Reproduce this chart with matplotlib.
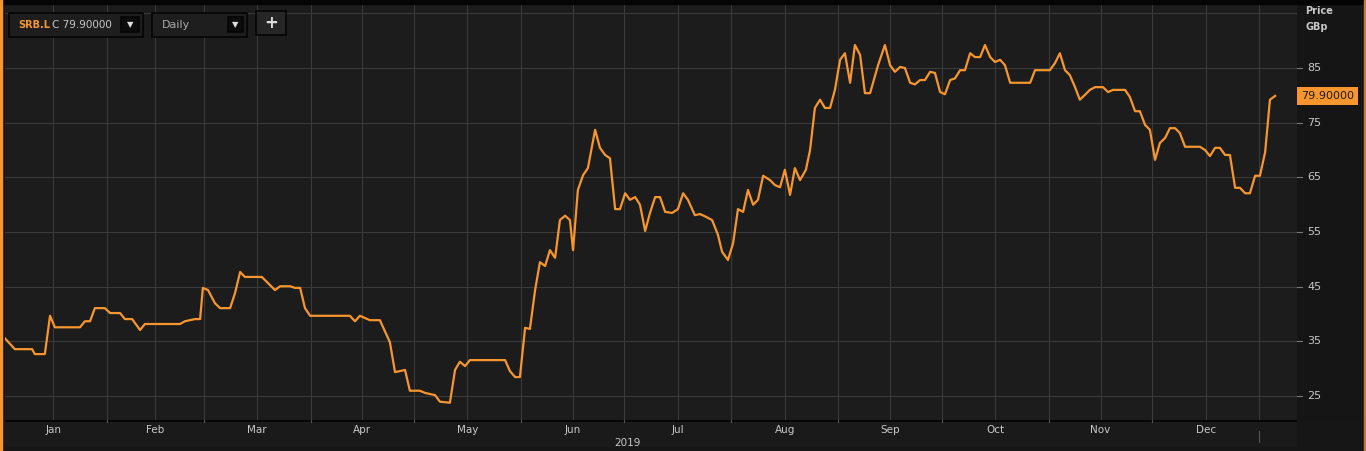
import matplotlib
matplotlib.use("Agg")
import matplotlib.pyplot as plt
from matplotlib.patches import Rectangle
import numpy as np

# x positions (chart pixels, converted to days since 1 Jan 2019) and prices
days_px = [5,15,32,35,45,50,55,80,85,90,95,105,110,120,125,132,140,145,180,185,195,200,203,208,215,220,230,235,240,245,262,270,275,280,290,295,300,305,310,350,355,360,370,380,390,395,405,410,420,425,435,440,450,455,460,465,470,505,510,515,520,525,530,535,540,545,550,555,560,565,570,573,578,583,588,595,600,605,610,615,620,625,630,635,640,645,650,655,660,665,672,678,683,688,695,700,705,712,718,722,728,733,738,743,748,753,758,763,770,775,780,785,790,795,800,806,810,815,820,825,830,835,840,845,850,855,860,865,870,878,885,890,895,900,905,910,915,920,925,930,935,940,945,950,955,960,965,970,975,980,985,990,995,1000,1005,1010,1030,1035,1050,1055,1060,1065,1070,1075,1080,1085,1090,1095,1103,1108,1113,1125,1130,1135,1140,1145,1150,1155,1160,1165,1170,1175,1180,1185,1200,1205,1210,1215,1220,1225,1230,1235,1240,1245,1250,1255,1260,1265,1270,1275]
days = [round(p / 3.45, 1) for p in days_px]
prices = [35.6,33.6,33.6,32.7,32.7,39.7,37.6,37.6,38.7,38.7,41.1,41.1,40.2,40.2,39.1,39.1,37.1,38.2,38.2,38.7,39.1,39.1,44.8,44.4,42.0,41.1,41.1,43.8,47.7,46.8,46.8,45.3,44.4,45.1,45.1,44.8,44.8,41.1,39.7,39.7,38.7,39.7,38.9,38.9,34.9,29.4,29.8,26.0,26.0,25.6,25.2,24.0,23.8,29.8,31.3,30.5,31.6,31.6,29.6,28.5,28.5,37.5,37.3,44.4,49.5,48.8,51.7,50.3,57.2,58.0,57.2,51.7,62.7,65.4,66.7,73.7,70.4,69.1,68.5,59.2,59.2,62.1,60.9,61.4,60.0,55.2,58.5,61.4,61.4,58.7,58.5,59.2,62.1,60.9,58.1,58.3,57.9,57.2,54.5,51.4,49.9,53.0,59.2,58.7,62.7,60.0,60.9,65.3,64.5,63.6,63.2,66.4,61.8,66.7,64.5,66.4,70.0,77.7,79.2,77.7,77.7,81.0,86.5,87.7,82.3,89.2,87.4,80.4,80.4,85.5,89.2,85.5,84.3,85.2,85.0,82.3,82.0,82.8,82.8,84.3,84.1,80.6,80.2,82.8,83.1,84.6,84.6,87.7,87.0,87.0,89.2,87.0,86.1,86.5,85.5,82.3,82.3,84.6,84.6,85.9,87.7,84.6,83.7,81.5,79.2,80.1,81.0,81.5,81.5,80.6,81.0,81.0,79.7,77.1,77.1,74.6,73.7,68.2,71.3,72.2,74.0,74.0,73.1,70.6,70.6,70.0,68.9,70.4,70.4,69.1,69.1,63.1,63.1,62.1,62.1,65.3,65.3,69.6,79.2,79.9]
month_labels = ["Jan","Feb","Mar","Apr","May","Jun","Jul","Aug","Sep","Oct","Nov","Dec"]
month_starts = [0,31,59,90,120,151,181,212,243,273,304,334,365]
yticks = [25,35,45,55,65,75,85]
last_price = 79.9

BG = "#1c1c1c"
GRID = "#3a3a3a"
ORANGE = "#f7962f"
TXT = "#c8c8c8"

fig = plt.figure(figsize=(13.66, 4.51), dpi=100, facecolor="#161616")
W, H = 1366, 451
def ax_rect(x0, y0, x1, y1):
    return [x0 / W, 1 - y1 / H, (x1 - x0) / W, (y1 - y0) / H]

ax = fig.add_axes(ax_rect(5, 5, 1297, 420))
ax.set_facecolor(BG)
x0d, x1d = 5 / 3.45, 1297 / 3.45
ax.set_xlim(x0d, x1d)
v = lambda y: 85 - (y - 68) / 5.47
ax.set_ylim(v(420), v(5))
for t in yticks + [95]:
    ax.axhline(t, color=GRID, lw=0.8, zorder=0)
grid_x = []
for i in range(12):
    grid_x += [month_starts[i], (month_starts[i] + month_starts[i + 1]) / 2]
grid_x += [365, 380]
for g in grid_x:
    ax.axvline(g, color=GRID, lw=0.8, zorder=0)
ax.plot(days, prices, color=ORANGE, lw=1.6, zorder=3)
ax.set_xticks([]); ax.set_yticks([])
for s in ax.spines.values():
    s.set_visible(False)

# right axis panel
rax = fig.add_axes(ax_rect(1297, 5, 1364, 420))
rax.set_facecolor("#151515")
rax.set_ylim(v(420), v(5)); rax.set_xlim(0, 1)
rax.set_xticks([]); rax.set_yticks([])
for s in rax.spines.values():
    s.set_visible(False)
for t in yticks:
    rax.plot([0, 0.08], [t, t], color="#777777", lw=0.8)
    rax.text(0.15, t, str(t), color=TXT, fontsize=8, va="center", ha="left")
rax.text(0.06, last_price, f"{last_price:.5f}", color="#1a1a1a", fontsize=8, va="center", ha="left",
         bbox=dict(boxstyle="square,pad=0.35", fc=ORANGE, ec="none"), zorder=5)
fig.text(1305 / W, 1 - 11 / H, "Price", color=TXT, fontsize=7, fontweight="bold", va="center")
fig.text(1305 / W, 1 - 27 / H, "GBp", color=TXT, fontsize=7, fontweight="bold", va="center")

# bottom axis
bax = fig.add_axes(ax_rect(5, 420, 1297, 447))
bax.set_facecolor("#1a1a1a")
bax.set_xlim(x0d, x1d); bax.set_ylim(0, 1)
bax.set_xticks([]); bax.set_yticks([])
for s in bax.spines.values():
    s.set_visible(False)
bax.axhline(1, color="#050505", lw=2)
for i, m in enumerate(month_labels):
    bax.text((month_starts[i] + month_starts[i + 1]) / 2, 0.62, m, color=TXT, fontsize=7.5, ha="center", va="center")
    if i > 0:
        bax.plot([month_starts[i]] * 2, [0.92, 1.0], color="#555555", lw=0.8)
bax.plot([365, 365], [0.2, 0.6], color="#555555", lw=0.8)
bax.text(182, 0.15, "2019", color=TXT, fontsize=7.5, ha="center", va="center")

# top bar and borders
fig.add_artist(Rectangle((0, 1 - 4 / H), 1, 4 / H, transform=fig.transFigure, color="#050505"))
fig.add_artist(Rectangle((0, 0), 2 / W, 1, transform=fig.transFigure, color=ORANGE))
fig.add_artist(Rectangle((1364 / W, 0), 2 / W, 1, transform=fig.transFigure, color="#c87a2a"))

# controls
def box(x0, y0, x1, y1, fc="#1e1e1e"):
    fig.add_artist(Rectangle((x0 / W, 1 - y1 / H), (x1 - x0) / W, (y1 - y0) / H,
                             transform=fig.transFigure, fc=fc, ec="#050505", lw=1.2))
box(9, 13, 143, 37)
box(152, 13, 247, 37)
box(256, 11, 286, 35, fc="#262626")
box(121, 17, 139, 32, fc="#0c0c0c")
box(228, 17, 243, 32, fc="#0c0c0c")
fig.text(18 / W, 1 - 25 / H, "SRB.L", color=ORANGE, fontsize=7, fontweight="bold", va="center")
fig.text(52 / W, 1 - 25 / H, "C 79.90000", color=TXT, fontsize=7.5, va="center")
fig.text(130 / W, 1 - 25 / H, "▼", color="#dddddd", fontsize=6, ha="center", va="center")
fig.text(235.5 / W, 1 - 25 / H, "▼", color="#dddddd", fontsize=6, ha="center", va="center")
fig.text(162 / W, 1 - 25 / H, "Daily", color="#aaaaaa", fontsize=8, va="center")
fig.text(271 / W, 1 - 23 / H, "+", color="#dddddd", fontsize=12, fontweight="bold", ha="center", va="center")

fig.savefig("out.png", dpi=100, facecolor=fig.get_facecolor())
